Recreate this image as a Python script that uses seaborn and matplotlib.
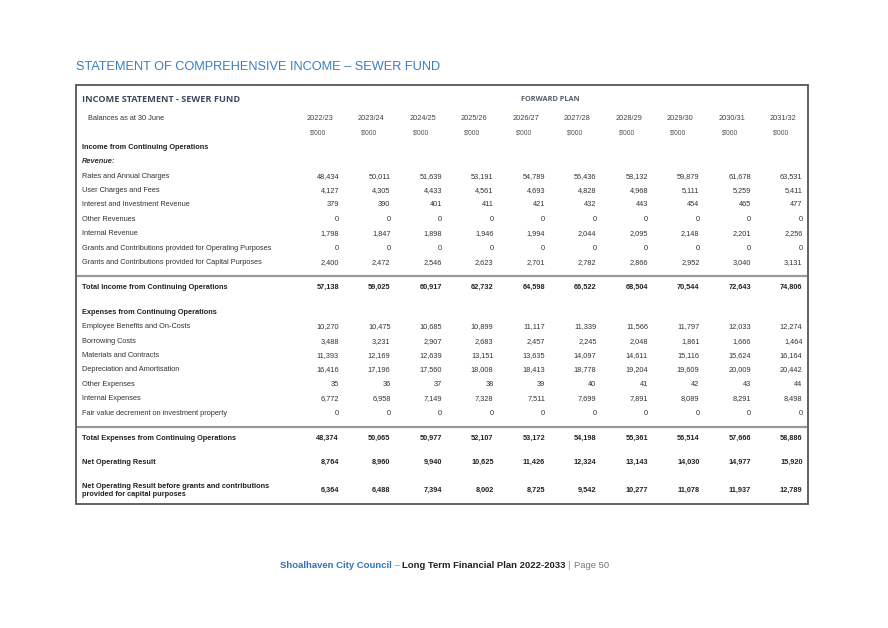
import numpy as np
import pandas as pd
import matplotlib
matplotlib.use("Agg")
import matplotlib.pyplot as plt
import seaborn as sns

# column headers
years = ["2022/23", "2023/24", "2024/25", "2025/26", "2026/27",
         "2027/28", "2028/29", "2029/30", "2030/31", "2031/32"]

# income rows
rates_charges = [48434, 50011, 51639, 53191, 54789, 56436, 58132, 59879, 61678, 63531]
user_charges = [4127, 4305, 4433, 4561, 4693, 4828, 4968, 5111, 5259, 5411]
interest_rev = [379, 390, 401, 411, 421, 432, 443, 454, 465, 477]
other_rev = [0, 0, 0, 0, 0, 0, 0, 0, 0, 0]
internal_rev = [1798, 1847, 1898, 1946, 1994, 2044, 2095, 2148, 2201, 2256]
grants_operating = [0, 0, 0, 0, 0, 0, 0, 0, 0, 0]
grants_capital = [2400, 2472, 2546, 2623, 2701, 2782, 2866, 2952, 3040, 3131]
total_income = [57138, 59025, 60917, 62732, 64598, 66522, 68504, 70544, 72643, 74806]

# expense rows
employee_costs = [10270, 10475, 10685, 10899, 11117, 11339, 11566, 11797, 12033, 12274]
borrowing_costs = [3488, 3231, 2907, 2683, 2457, 2245, 2048, 1861, 1666, 1464]
materials = [11393, 12169, 12639, 13151, 13635, 14097, 14611, 15116, 15624, 16164]
depreciation = [16416, 17196, 17560, 18008, 18413, 18778, 19204, 19609, 20009, 20442]
other_exp = [35, 36, 37, 38, 39, 40, 41, 42, 43, 44]
internal_exp = [6772, 6958, 7149, 7328, 7511, 7699, 7891, 8089, 8291, 8498]
fair_value_dec = [0, 0, 0, 0, 0, 0, 0, 0, 0, 0]
total_expenses = [48374, 50065, 50977, 52107, 53172, 54198, 55361, 56514, 57666, 58886]

# results
net_result = [8764, 8960, 9940, 10625, 11426, 12324, 13143, 14030, 14977, 15920]
net_before_grants = [6364, 6488, 7394, 8002, 8725, 9542, 10277, 11078, 11937, 12789]

# table rows: label, values, style
rows = [
    ("Income from Continuing Operations", None, "head"),
    ("Revenue:", None, "ital"),
    ("Rates and Annual Charges", rates_charges, "norm"),
    ("User Charges and Fees", user_charges, "norm"),
    ("Interest and Investment Revenue", interest_rev, "norm"),
    ("Other Revenues", other_rev, "norm"),
    ("Internal Revenue", internal_rev, "norm"),
    ("Grants and Contributions provided for Operating Purposes", grants_operating, "norm"),
    ("Grants and Contributions provided for Capital Purposes", grants_capital, "norm"),
    ("Total Income from Continuing Operations", total_income, "bold"),
    ("Expenses from Continuing Operations", None, "head"),
    ("Employee Benefits and On-Costs", employee_costs, "norm"),
    ("Borrowing Costs", borrowing_costs, "norm"),
    ("Materials and Contracts", materials, "norm"),
    ("Depreciation and Amortisation", depreciation, "norm"),
    ("Other Expenses", other_exp, "norm"),
    ("Internal Expenses", internal_exp, "norm"),
    ("Fair value decrement on investment property", fair_value_dec, "norm"),
    ("Total Expenses from Continuing Operations", total_expenses, "bold"),
    ("Net Operating Result", net_result, "bold"),
    ("Net Operating Result before grants and contributions\nprovided for capital purposes",
     net_before_grants, "bold"),
]
row_y = [147, 161, 175.5, 190, 204, 219, 233, 248, 262, 287, 312, 326, 340.5, 355,
         369, 384, 398, 412.5, 438, 462, 490]

sns.set_theme(style="white")
plt.rcParams["font.family"] = ["Liberation Sans", "DejaVu Sans"]

fig = plt.figure(figsize=(8.88, 6.28), dpi=100)
ax = fig.add_axes([0, 0, 1, 1])
ax.set_xlim(0, 888)
ax.set_ylim(628, 0)
ax.axis("off")

blue = "#3b7dc0"
txt = "#333333"
fs = 5.3
base = 2.2  # baseline offset below row centre

# column right edges
col_right = 339 + np.arange(len(years)) * 51.5
col_mid = col_right - 21

ax.text(76, 67, "STATEMENT OF COMPREHENSIVE INCOME \u2013 SEWER FUND", color=blue,
        fontsize=9.2, va="center", ha="left")

# box
ax.add_patch(plt.Rectangle((76, 85), 732, 419, fill=False, edgecolor="#555555", lw=1.3))

ax.text(82, 99.5, "INCOME STATEMENT - SEWER FUND", family=["Open Sans", "DejaVu Sans"],
        fontweight="bold", fontsize=6.6, color="#3d4a5c", va="center")
ax.text(550, 99.5, "FORWARD PLAN", family=["Open Sans", "DejaVu Sans"], fontweight="bold",
        fontsize=5.3, color="#555d6b", va="center", ha="center")
ax.text(88, 118 + base, "Balances as at 30 June", fontsize=fs, color=txt, va="baseline")
for x, yr in zip(col_mid, years):
    ax.text(x + 1.5, 118 + base, yr, fontsize=fs, color="#444444", va="baseline",
            ha="center")
    ax.text(x, 132 + base, "$'000", fontsize=4.9, color="#555555", va="baseline",
            ha="center")

for (label, vals, style), y in zip(rows, row_y):
    weight = "bold" if style in ("head", "bold") else "normal"
    fstyle = "italic" if style == "ital" else "normal"
    color = "#222222" if weight == "bold" else txt
    if "\n" in label:
        ax.text(82, y, label, fontsize=fs, color=color, fontweight="bold",
                va="center", linespacing=1.2)
    else:
        ax.text(82, y + base, label, fontsize=fs, color=color,
                fontweight=weight if style != "ital" else "bold", fontstyle=fstyle,
                va="baseline")
    if vals is None:
        continue
    for x, v in zip(col_right, vals):
        ax.text(x, y + base, f"{v:,}", fontsize=fs, color=color,
                fontweight=weight, va="baseline", ha="right")

# separators
for y in (276, 427):
    ax.plot([77, 807], [y, y], color="#999999", lw=1.6, solid_capstyle="butt")

# footer
ffs = 6.8
t1 = ax.text(280, 565, "Shoalhaven City Council", fontsize=ffs, fontweight="bold",
             color="#2e75b6", va="center")
t2 = ax.annotate(" \u2013 ", xy=(1, 0), xycoords=t1, va="bottom", fontsize=ffs,
                 color="#888888")
t3 = ax.annotate("Long Term Financial Plan 2022-2033 ", xy=(1, 0), xycoords=t2,
                 va="bottom", fontsize=ffs, fontweight="bold", color="#222222")
t4 = ax.annotate("| ", xy=(1, 0), xycoords=t3, va="bottom", fontsize=ffs,
                 color="#888888")
ax.annotate("Page 50", xy=(1, 0), xycoords=t4, va="bottom", fontsize=ffs,
            color="#777777")

fig.savefig("out.png", dpi=100, facecolor="white")
